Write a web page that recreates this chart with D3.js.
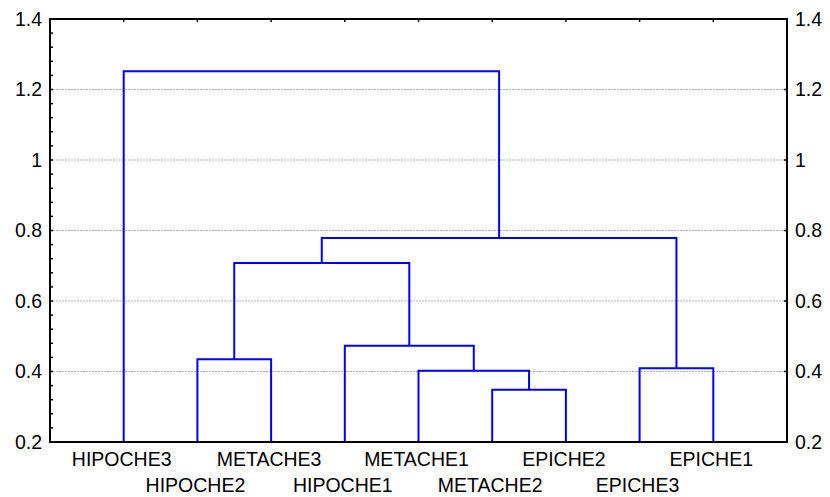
<!DOCTYPE html>
<html>
<head>
<meta charset="utf-8">
<script src="https://cdn.jsdelivr.net/npm/d3@7"></script>
<style>
  body { margin: 0; background: #fff; }
  text { font-family: "Liberation Sans", Arial, Helvetica, sans-serif; }
</style>
</head>
<body>
<div id="chart"></div>
<script>
// leaves in the order they sit along the x axis
var leaves = ["HIPOCHE3", "HIPOCHE2", "METACHE3", "HIPOCHE1", "METACHE1",
              "METACHE2", "EPICHE2", "EPICHE3", "EPICHE1"];

// linkage steps: [left, right, height]; index >= leaves.length means an earlier cluster
var mergeLeft   = [1, 5, 4, 3, 9, 7, 13, 0];
var mergeRight  = [2, 6, 10, 11, 12, 8, 14, 15];
var mergeHeight = [0.435, 0.348, 0.402, 0.473, 0.708, 0.409, 0.779, 1.252];

var yTicks = [0.2, 0.4, 0.6, 0.8, 1.0, 1.2, 1.4];
var yTickLabels = ["0.2", "0.4", "0.6", "0.8", "1", "1.2", "1.4"];

var width = 830, height = 497;
var margin = {top: 19, right: 43, bottom: 55, left: 50};
var fontSize = 19.5;

var svg = d3.select("#chart")
  .append("svg")
    .attr("width", width)
    .attr("height", height);

var x = d3.scaleLinear()
  .domain([0, leaves.length + 1])
  .range([margin.left, width - margin.right]);

var y = d3.scaleLinear()
  .domain([0.2, 1.4])
  .range([height - margin.bottom, margin.top]);

// dotted grid lines
svg.append("g")
  .selectAll("line")
  .data(yTicks.slice(1, -1))
  .enter()
  .append("line")
    .attr("x1", x(0)).attr("x2", x(leaves.length + 1))
    .attr("y1", d => y(d)).attr("y2", d => y(d))
    .attr("stroke", "#b5b5b5")
    .attr("stroke-width", 1.2)
    .attr("stroke-dasharray", "2,1");

// position of every node: leaves first, then clusters
var nodeX = leaves.map((d, i) => x(i + 1));
var nodeH = leaves.map(() => 0.2);
var links = [];
mergeLeft.forEach(function(l, i) {
  var r = mergeRight[i], h = mergeHeight[i];
  links.push({x1: nodeX[l], h1: nodeH[l], x2: nodeX[r], h2: nodeH[r], h: h});
  nodeX.push((nodeX[l] + nodeX[r]) / 2);
  nodeH.push(h);
});

svg.append("g")
  .selectAll("path")
  .data(links)
  .enter()
  .append("path")
    .attr("d", d => "M" + d.x1 + "," + y(d.h1) + "V" + y(d.h) + "H" + d.x2 + "V" + y(d.h2))
    .attr("fill", "none")
    .attr("stroke", "#0000ff")
    .attr("stroke-width", 2);

// frame
svg.append("rect")
  .attr("x", x(0)).attr("y", y(1.4))
  .attr("width", x(leaves.length + 1) - x(0))
  .attr("height", y(0.2) - y(1.4))
  .attr("fill", "none")
  .attr("stroke", "#000")
  .attr("stroke-width", 2);

// left axis: major ticks with labels plus minor ticks
var left = svg.append("g")
  .attr("transform", "translate(" + x(0) + ",0)")
  .call(d3.axisLeft(y).tickValues(yTicks).tickSize(0).tickPadding(8)
    .tickFormat((d, i) => yTickLabels[i]));
left.select(".domain").remove();
left.selectAll("text").attr("font-size", fontSize).attr("fill", "#000").attr("font-family", null);

var minor = d3.range(0.2, 1.4001, 0.04);
svg.append("g").selectAll("line")
  .data(minor)
  .enter()
  .append("line")
    .attr("x1", x(0) - 1).attr("x2", x(0) + 3)
    .attr("y1", d => y(d)).attr("y2", d => y(d))
    .attr("stroke", "#000").attr("stroke-width", 1.5);

// right axis
var right = svg.append("g")
  .attr("transform", "translate(" + x(leaves.length + 1) + ",0)")
  .call(d3.axisRight(y).tickValues(yTicks).tickSize(0).tickPadding(8)
    .tickFormat((d, i) => yTickLabels[i]));
right.select(".domain").remove();
right.selectAll("text").attr("font-size", fontSize).attr("fill", "#000").attr("font-family", null);

svg.append("g").selectAll("line")
  .data(yTicks)
  .enter()
  .append("line")
    .attr("x1", x(leaves.length + 1) - 3).attr("x2", x(leaves.length + 1) + 1)
    .attr("y1", d => y(d)).attr("y2", d => y(d))
    .attr("stroke", "#000").attr("stroke-width", 1.5);

// top ticks at leaf positions
svg.append("g").selectAll("line")
  .data(leaves)
  .enter()
  .append("line")
    .attr("x1", (d, i) => x(i + 1)).attr("x2", (d, i) => x(i + 1))
    .attr("y1", y(1.4)).attr("y2", y(1.4) + 3)
    .attr("stroke", "#000").attr("stroke-width", 1.5);

// leaf labels, staggered on two rows
svg.append("g").selectAll("text")
  .data(leaves)
  .enter()
  .append("text")
    .attr("x", (d, i) => x(i + 1) - 2)
    .attr("y", (d, i) => i % 2 === 0 ? 466 : 492)
    .attr("text-anchor", "middle")
    .attr("font-size", fontSize)
    .attr("fill", "#000")
    .text(d => d);
</script>
</body>
</html>
